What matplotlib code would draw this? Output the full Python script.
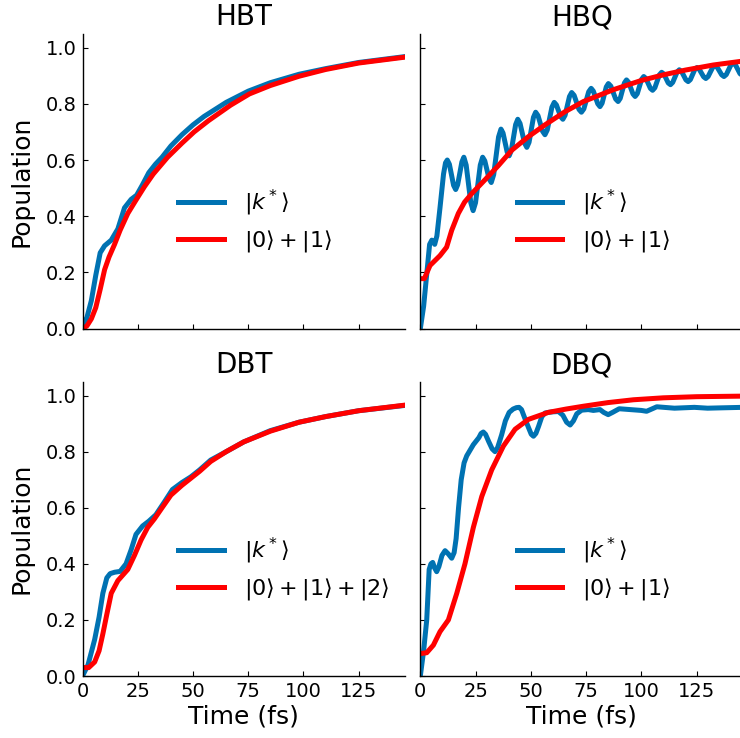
import matplotlib
matplotlib.use("Agg")
import matplotlib.pyplot as plt

# ---------------- data ----------------
titles = ["HBT", "HBQ", "DBT", "DBQ"]
label_k = r"$|k^*\rangle$"
labels_red = [r"$|0\rangle+|1\rangle$", r"$|0\rangle+|1\rangle$",
              r"$|0\rangle+|1\rangle+|2\rangle$", r"$|0\rangle+|1\rangle$"]
xticks = [0, 25, 50, 75, 100, 125]
yticks = [0.0, 0.2, 0.4, 0.6, 0.8, 1.0]

hbt_blue_t = [0, 2, 4, 6, 8, 10, 13, 16, 19, 22, 24.5, 27, 30, 33, 36, 40, 45, 50, 55, 60,
              65, 70, 75, 85, 98, 110, 125, 146]
hbt_blue_v = [0.01, 0.04, 0.10, 0.19, 0.27, 0.295, 0.315, 0.355, 0.43, 0.46, 0.475, 0.51,
              0.555, 0.585, 0.61, 0.65, 0.69, 0.725, 0.755, 0.78, 0.805, 0.825, 0.845, 0.875,
              0.905, 0.925, 0.947, 0.968]
hbt_red_t = [0, 2, 4, 6, 8, 10, 12, 14.5, 17, 20.5, 24, 28, 32, 38.5, 45, 50.5, 57, 67, 75.5,
             85, 98, 110, 125, 146]
hbt_red_v = [0.0, 0.01, 0.035, 0.075, 0.14, 0.21, 0.255, 0.30, 0.35, 0.41, 0.455, 0.505, 0.55,
             0.61, 0.66, 0.70, 0.74, 0.795, 0.835, 0.865, 0.898, 0.922, 0.945, 0.966]

hbq_blue_t = [0.0, 1.5, 3.0, 4.2, 5.2, 6.5, 7.5, 8.9, 10.5, 11.4, 12.2,
              13.15, 14.1, 15.05, 16.0, 16.9, 17.85, 18.8, 19.7,
              20.75, 21.8, 22.85, 23.9, 24.98, 26.05, 27.13, 28.2,
              29.18, 30.15, 31.13, 32.1, 33.2, 34.3, 35.4, 36.5,
              37.43, 38.35, 39.28, 40.2, 41.18, 42.15, 43.13, 44.1,
              45.13, 46.15, 47.18, 48.2, 49.2, 50.2, 51.2, 52.2,
              53.25, 54.3, 55.35, 56.4, 57.45, 58.5, 59.55, 60.6,
              61.58, 62.55, 63.53, 64.5, 65.5, 66.5, 67.5, 68.5,
              69.6, 70.7, 71.8, 72.9, 74.0, 75.1, 76.2, 77.3,
              78.3, 79.3, 80.3, 81.3, 82.25, 83.2, 84.15, 85.1,
              86.2, 87.3, 88.4, 89.5, 90.45, 91.4, 92.35, 93.3,
              94.28, 95.25, 96.23, 97.2, 98.18, 99.15, 100.13, 101.1,
              102.1, 103.1, 104.1, 105.1, 106.13, 107.15, 108.18, 109.2,
              110.2, 111.2, 112.2, 113.2, 114.2, 115.2, 116.2, 117.2,
              118.2, 119.2, 120.2, 121.2, 122.2, 123.2, 124.2, 125.2,
              126.2, 127.2, 128.2, 129.2, 130.23, 131.25, 132.28, 133.3,
              134.33, 135.35, 136.38, 137.4, 138.45, 139.5, 140.55, 141.6,
              142.63, 143.65, 144.68, 146.0]
hbq_blue_v = [0.0, 0.08, 0.20, 0.30, 0.315, 0.30, 0.33, 0.43, 0.55, 0.59, 0.60,
              0.585, 0.5475, 0.51, 0.495, 0.512, 0.5525, 0.593, 0.61,
              0.582, 0.515, 0.448, 0.42, 0.448, 0.515, 0.582, 0.61,
              0.597, 0.565, 0.533, 0.52, 0.548, 0.615, 0.682, 0.71,
              0.696, 0.6625, 0.629, 0.615, 0.634, 0.68, 0.726, 0.745,
              0.730, 0.695, 0.66, 0.645, 0.663, 0.7075, 0.752, 0.77,
              0.758, 0.73, 0.702, 0.69, 0.707, 0.7475, 0.788, 0.805,
              0.796, 0.775, 0.754, 0.745, 0.759, 0.7925, 0.826, 0.84,
              0.83, 0.805, 0.78, 0.77, 0.782, 0.8125, 0.843, 0.855,
              0.845, 0.8225, 0.80, 0.79, 0.802, 0.831, 0.86, 0.872,
              0.863, 0.84, 0.817, 0.808, 0.819, 0.8465, 0.874, 0.885,
              0.876, 0.8555, 0.835, 0.826, 0.836, 0.8615, 0.887, 0.897,
              0.89, 0.8725, 0.855, 0.848, 0.857, 0.88, 0.903, 0.912,
              0.906, 0.89, 0.874, 0.868, 0.876, 0.8945, 0.913, 0.921,
              0.915, 0.90, 0.885, 0.879, 0.886, 0.904, 0.922, 0.929,
              0.923, 0.9095, 0.896, 0.89, 0.897, 0.913, 0.929, 0.936,
              0.93, 0.9165, 0.903, 0.897, 0.904, 0.921, 0.938, 0.945,
              0.938, 0.9225, 0.907, 0.90]
hbq_red_t = [0, 1.8, 4.4, 8.9, 11.9, 14.2, 17.2, 20, 23.2, 29.3, 35.3, 41.4, 48.9, 56.4, 65.5,
             73.8, 87.3, 100, 110, 120, 132.6, 146]
hbq_red_v = [0.178, 0.178, 0.225, 0.26, 0.29, 0.35, 0.41, 0.45, 0.48, 0.53, 0.58, 0.635, 0.683,
             0.725, 0.772, 0.808, 0.85, 0.883, 0.903, 0.92, 0.938, 0.952]

dbt_blue_t = [0, 2.5, 5.5, 7.5, 9.2, 11, 12.5, 14.5, 17, 19.7, 22, 24.2, 27.2, 30, 33.2, 37,
              40.7, 45, 49, 53, 58, 65, 73, 85, 98, 110, 125, 146]
dbt_blue_v = [0.0, 0.04, 0.13, 0.21, 0.295, 0.35, 0.365, 0.37, 0.373, 0.40, 0.45, 0.505, 0.535,
              0.552, 0.575, 0.62, 0.665, 0.69, 0.71, 0.735, 0.77, 0.80, 0.835, 0.875, 0.905,
              0.925, 0.946, 0.965]
dbt_red_t = [0, 2.8, 5.5, 7.5, 9.2, 11, 13, 16, 20.5, 23.5, 26.5, 29.5, 32.5, 36, 40, 45, 49,
             53, 58, 65, 73, 85, 98, 110, 125, 146]
dbt_red_v = [0.03, 0.03, 0.05, 0.09, 0.15, 0.22, 0.295, 0.34, 0.38, 0.43, 0.485, 0.53, 0.56,
             0.60, 0.645, 0.68, 0.705, 0.73, 0.765, 0.80, 0.835, 0.873, 0.905, 0.925, 0.946,
             0.966]

dbq_blue_t = [0, 1.5, 2.9, 4.0, 4.8, 5.6, 6.5, 7.4, 8.4, 9.8, 11.2, 12.7, 14.2, 15.3, 16.2,
              17.3, 18.5, 19.8, 21, 24, 26.5, 27.5, 28.5, 29.5, 31, 32.5, 33.8, 35, 36.8, 38.5,
              40.2, 42, 43.5, 44.7, 45.8, 47, 49, 50.2, 51.2, 52.3, 53.5, 55, 56.5, 58, 60,
              62.5, 64.5, 66.2, 67.8, 69.3, 70.8, 73, 76, 78.3, 81.3, 83, 85, 87, 90, 95, 100,
              102.4, 105, 107, 115, 124, 130, 135, 146]
dbq_blue_v = [0.0, 0.09, 0.2, 0.38, 0.40, 0.405, 0.385, 0.372, 0.39, 0.43, 0.447, 0.435, 0.42,
              0.44, 0.49, 0.60, 0.70, 0.76, 0.785, 0.825, 0.85, 0.865, 0.87, 0.862, 0.835, 0.81,
              0.80, 0.815, 0.86, 0.91, 0.94, 0.952, 0.957, 0.958, 0.95, 0.925, 0.885, 0.862,
              0.855, 0.865, 0.89, 0.925, 0.938, 0.94, 0.942, 0.943, 0.93, 0.905, 0.895, 0.91,
              0.935, 0.948, 0.95, 0.947, 0.95, 0.94, 0.932, 0.94, 0.953, 0.95, 0.947, 0.944,
              0.953, 0.96, 0.955, 0.958, 0.955, 0.956, 0.958]
dbq_red_t = [0, 2.9, 5.9, 8.9, 12.7, 16.5, 20.2, 24, 27.8, 32.3, 37.6, 42.9, 48.9, 57.9, 66,
             73.8, 85, 96.4, 110, 125, 146]
dbq_red_v = [0.08, 0.083, 0.11, 0.158, 0.2, 0.295, 0.40, 0.53, 0.64, 0.735, 0.82, 0.88, 0.915,
             0.94, 0.952, 0.962, 0.975, 0.985, 0.992, 0.996, 0.998]

blue_series = [(hbt_blue_t, hbt_blue_v), (hbq_blue_t, hbq_blue_v),
               (dbt_blue_t, dbt_blue_v), (dbq_blue_t, dbq_blue_v)]
red_series = [(hbt_red_t, hbt_red_v), (hbq_red_t, hbq_red_v),
              (dbt_red_t, dbt_red_v), (dbq_red_t, dbq_red_v)]

BLUE = "#0072b2"
RED = "#ff0000"

fig = plt.figure(figsize=(7.4, 7.38), dpi=100)
W = 0.436
positions = [(0.1115, 0.5546, W, 0.400), (0.568, 0.5546, W, 0.400),
             (0.1115, 0.0840, W, 0.399), (0.568, 0.0840, W, 0.399)]
legend_anchor = [(0.296, 0.365), (0.299, 0.365), (0.296, 0.363), (0.299, 0.363)]

for i in range(4):
    ax = fig.add_axes(positions[i])
    bt, bv = blue_series[i]
    rt, rv = red_series[i]
    ax.plot(bt, bv, color=BLUE, lw=3.6, label=label_k, solid_joinstyle="round")
    ax.plot(rt, rv, color=RED, lw=3.6, label=labels_red[i], solid_joinstyle="round")
    ax.set_xlim(0, 146)
    ax.set_ylim(0, 1.05)
    ax.set_xticks(xticks)
    ax.set_yticks(yticks)
    ax.spines["top"].set_visible(False)
    ax.spines["right"].set_visible(False)
    for s in ("left", "bottom"):
        ax.spines[s].set_linewidth(1.0)
    ax.tick_params(direction="in", length=3.5, width=0.8, labelsize=14, pad=4)
    ax.set_title(titles[i], fontsize=20, pad=6)
    if i < 2:
        ax.tick_params(labelbottom=False)
    else:
        ax.set_xlabel("Time (fs)", fontsize=18, labelpad=3)
    if i % 2 == 1:
        ax.tick_params(labelleft=False)
    else:
        ax.set_ylabel("Population", fontsize=18, labelpad=9)
    ax.legend(loc="center left", bbox_to_anchor=legend_anchor[i], frameon=False,
              fontsize=16, borderpad=0, borderaxespad=0, handlelength=2.05,
              handletextpad=0.9, labelspacing=0.45)

fig.savefig("out.png", dpi=100)
